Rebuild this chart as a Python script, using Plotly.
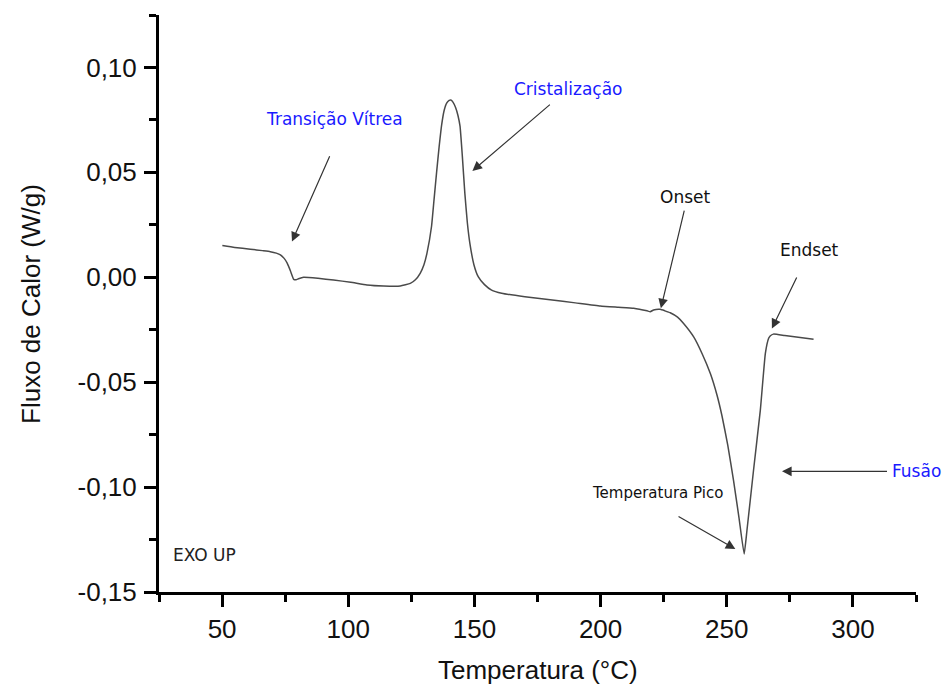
import plotly.graph_objects as go

# ---- data ----
temperatura = [50.1, 55, 61.2, 66, 69.1, 71.5, 73.1, 74.6, 75.8, 77.1, 78.4, 79.3, 80.3, 82.3,
               88, 94.2, 101, 107.4, 114, 120.6, 124.6, 126.6, 128.5, 130, 131.2, 133.0, 134.0,
               135.0, 136.0, 137.0, 138.0, 139.0, 140.0, 140.7, 141.5, 142.5, 143.5, 144.3, 145.2,
               146.2, 147.2, 148.2, 149.8, 151.5, 154, 156.8, 160.8, 170, 180, 190, 199.9, 207,
               213.1, 218.4, 219.7, 221.0, 223.6, 225.5, 227.6, 230.5, 232.9, 236.9, 240.2, 243.5,
               246.1, 248.1, 250.4, 252.7, 254.9, 256.9, 258.0, 260.6, 263.3, 265.3, 266.6, 267.2,
               268.5, 273, 279.1, 284.4]
fluxo = [0.0151, 0.0142, 0.0134, 0.0127, 0.0122, 0.0115, 0.0107, 0.0090, 0.0067, 0.0030, -0.0010,
         -0.0012, -0.0007, 0.0000, -0.0005, -0.0013, -0.0024, -0.0037, -0.0042, -0.0042, -0.0029,
         -0.0012, 0.0019, 0.0060, 0.0115, 0.0242, 0.0370, 0.0499, 0.0620, 0.0725, 0.0795, 0.0830,
         0.0843, 0.0845, 0.0835, 0.0810, 0.0770, 0.0720, 0.0580, 0.0401, 0.0260, 0.0162, 0.0060,
         0.0003, -0.0035, -0.0061, -0.0076, -0.0093, -0.0107, -0.0122, -0.0137, -0.0143, -0.0148,
         -0.0160, -0.0164, -0.0156, -0.0153, -0.0160, -0.0169, -0.0190, -0.0220, -0.0284, -0.0363,
         -0.0459, -0.0560, -0.0660, -0.0800, -0.0969, -0.1150, -0.1319, -0.1207, -0.0921, -0.0634,
         -0.0363, -0.0291, -0.0280, -0.0271, -0.0278, -0.0287, -0.0295]

x_ticks = [50, 100, 150, 200, 250, 300]
x_ticklabels = ["50", "100", "150", "200", "250", "300"]
x_minor = [25, 75, 125, 175, 225, 275, 325]
y_ticks = [-0.15, -0.10, -0.05, 0.00, 0.05, 0.10]
y_ticklabels = ["-0,15", "-0,10", "-0,05", "0,00", "0,05", "0,10"]
y_minor = [-0.125, -0.075, -0.025, 0.025, 0.075, 0.125]

# annotation labels: (text, colour, x, y, font size)
labels = [
    ("Transição Vítrea", "#1a1aff", 94.6, 0.0752, 17),
    ("Cristalização", "#1a1aff", 187.2, 0.0895, 17),
    ("Onset", "#111111", 233.5, 0.0384, 17),
    ("Endset", "#111111", 282.7, 0.0132, 17),
    ("Temperatura Pico", "#111111", 222.6, -0.1026, 15),
]
# arrows: (tail x, tail y, head x, head y)
arrows = [
    (92.9, 0.0584, 77.7, 0.0170),
    (180.5, 0.0829, 149.2, 0.0507),
    (233.3, 0.0325, 223.9, -0.0148),
    (278.0, 0.0006, 267.9, -0.0244),
    (230.3, -0.1136, 253.4, -0.1295),
    (314.1, -0.0925, 271.9, -0.0925),
]

fig = go.Figure()
fig.add_trace(go.Scatter(x=temperatura, y=fluxo, mode="lines",
                         line=dict(color="#4a4a4a", width=1.5, shape="spline", smoothing=0.4),
                         showlegend=False, hoverinfo="skip"))

annotations = []
for t, c, x, y, s in labels:
    annotations.append(dict(x=x, y=y, xref="x", yref="y", text=t, showarrow=False,
                            font=dict(family="DejaVu Sans", size=s, color=c),
                            xanchor="center", yanchor="middle"))
annotations.append(dict(x=1.0 + 27.0 / 757.2, y=-0.0925, xref="paper", yref="y", text="Fusão",
                        showarrow=False, font=dict(family="DejaVu Sans", size=17, color="#1a1aff"),
                        xanchor="right", yanchor="middle"))
annotations.append(dict(x=29.8, y=-0.1325, xref="x", yref="y", text="EXO UP", showarrow=False,
                        font=dict(family="DejaVu Sans", size=17, color="#222222"),
                        xanchor="left", yanchor="middle"))
for tx, ty, hx, hy in arrows:
    annotations.append(dict(x=hx, y=hy, xref="x", yref="y", ax=tx, ay=ty, axref="x", ayref="y",
                            text="", showarrow=True, arrowhead=2, arrowsize=1.6, arrowwidth=1.2,
                            arrowcolor="#333333", standoff=0, startstandoff=0))
# axis titles
annotations.append(dict(x=0.5, y=-0.136, xref="paper", yref="paper", text="Temperatura (°C)",
                        showarrow=False, font=dict(family="Liberation Sans", size=26, color="#111"),
                        xanchor="center", yanchor="middle"))
annotations.append(dict(x=-0.1698, y=0.5, xref="paper", yref="paper", text="Fluxo de Calor (W/g)",
                        showarrow=False, textangle=-90,
                        font=dict(family="Liberation Sans", size=26, color="#111"),
                        xanchor="center", yanchor="middle"))

fig.update_layout(
    width=945, height=686,
    margin=dict(l=159, r=29, t=15, b=94, pad=0),
    paper_bgcolor="white", plot_bgcolor="white",
    annotations=annotations,
    font=dict(family="Liberation Sans", size=26, color="#111"),
)
fig.update_xaxes(range=[25, 325], showgrid=False, zeroline=False, showline=True,
                 linecolor="black", linewidth=3, ticks="outside", ticklen=12, tickwidth=3,
                 tickcolor="black", tickvals=x_ticks, ticktext=x_ticklabels,
                 tickfont=dict(family="Liberation Sans", size=26, color="#111"),
                 minor=dict(tickvals=x_minor, ticks="outside", ticklen=7, tickwidth=3,
                            tickcolor="black"))
fig.update_yaxes(range=[-0.15, 0.125], showgrid=False, zeroline=False, showline=True,
                 linecolor="black", linewidth=3, ticks="outside", ticklen=12, tickwidth=3,
                 tickcolor="black", tickvals=y_ticks, ticktext=y_ticklabels,
                 ticklabelstandoff=2,
                 tickfont=dict(family="Liberation Sans", size=26, color="#111"),
                 minor=dict(tickvals=y_minor, ticks="outside", ticklen=7, tickwidth=3,
                            tickcolor="black"))

fig.write_html("out.html")
